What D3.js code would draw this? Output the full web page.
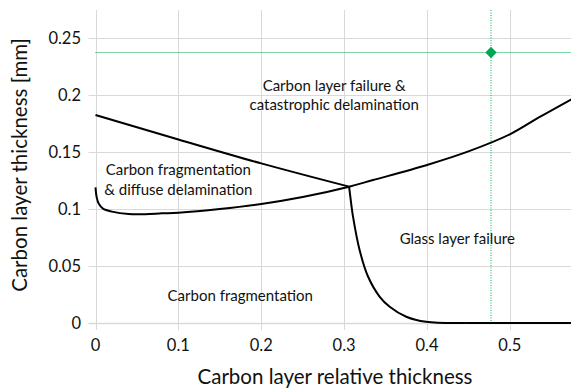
<!DOCTYPE html>
<html>
<head>
<meta charset="utf-8">
<script src="https://cdn.jsdelivr.net/npm/d3@7"></script>
<style>
  body { margin: 0; background: #fff; }
  text { font-family: Lato, "Liberation Sans", sans-serif; fill: #111; }
</style>
</head>
<body>
<script>
// upper boundary: failure & delamination vs fragmentation
var upperX = [0, 0.1, 0.2, 0.306];
var upperY = [0.1825, 0.161, 0.140, 0.1196];

// lower boundary
var lowerX = [0, 0.0015, 0.004, 0.009, 0.02, 0.04, 0.06, 0.08, 0.1, 0.15, 0.2, 0.25, 0.306, 0.335, 0.4, 0.45, 0.5, 0.5355, 0.575];
var lowerY = [0.119, 0.110, 0.1045, 0.1004, 0.0977, 0.0956, 0.0955, 0.0962, 0.0968, 0.100, 0.1044, 0.1105, 0.1196, 0.1254, 0.1386, 0.1505, 0.1655, 0.1805, 0.1965];

// glass layer failure boundary
var dropX = [0.306, 0.3085, 0.3106, 0.3187, 0.3287, 0.343, 0.355, 0.375, 0.399, 0.447];
var dropY = [0.1196, 0.105, 0.094, 0.064, 0.041, 0.023, 0.0143, 0.0055, 0.001, 0];
var tailX = [0.447, 0.575];
var tailY = [0, 0];

var markerX = 0.477, markerY = 0.238;

var xTicks = [0, 0.1, 0.2, 0.3, 0.4, 0.5];
var yTicks = [0, 0.05, 0.1, 0.15, 0.2, 0.25];

var labels = [
    {text: ["Carbon layer failure &", "catastrophic delamination"], x: 0.288, y: 0.2037, anchor: "middle"},
    {text: ["Carbon fragmentation", "& diffuse delamination"], x: 0.1, y: 0.1295, anchor: "middle"},
    {text: ["Glass layer failure"], x: 0.367, y: 0.069, anchor: "start"},
    {text: ["Carbon fragmentation"], x: 0.087, y: 0.0195, anchor: "start"}
];

var width = 571, height = 392;
var svg = d3.select("body").append("svg")
    .attr("width", width)
    .attr("height", height);

var x = d3.scaleLinear().domain([0, 0.575]).range([95.5, 572]);
var y = d3.scaleLinear().domain([0, 0.25]).range([323, 38]);
var yTop = 10;
var px = v => Math.round(v) + 0.5;

// gridlines
svg.append("g").selectAll("line").data(xTicks).join("line")
    .attr("x1", d => px(x(d))).attr("x2", d => px(x(d)))
    .attr("y1", yTop).attr("y2", y(0) + 7)
    .attr("stroke", "#d9d9d9").attr("stroke-width", 1);

svg.append("g").selectAll("line").data(yTicks).join("line")
    .attr("x1", x(0) - 7).attr("x2", width)
    .attr("y1", d => px(y(d))).attr("y2", d => px(y(d)))
    .attr("stroke", "#d9d9d9").attr("stroke-width", d => d === 0 ? 1.5 : 1);

// tick labels
svg.append("g").selectAll("text").data(yTicks).join("text")
    .attr("x", 81).attr("y", d => y(d) + 5.5)
    .attr("text-anchor", "end")
    .style("font-size", "16.5px")
    .text(d => d);

svg.append("g").selectAll("text").data(xTicks).join("text")
    .attr("x", d => x(d)).attr("y", 351)
    .attr("text-anchor", "middle")
    .style("font-size", "16.5px")
    .text(d => d);

// axis titles
svg.append("text")
    .attr("x", 335).attr("y", 384)
    .attr("text-anchor", "middle")
    .style("font-size", "20.5px")
    .text("Carbon layer relative thickness");

svg.append("text")
    .attr("transform", "translate(27,165) rotate(-90)")
    .attr("text-anchor", "middle")
    .style("font-size", "20.5px")
    .text("Carbon layer thickness [mm]");

// green guide lines + marker (dotted)
var green = "#00b050";
var gx = Math.round(x(markerX)), gy = px(y(markerY));
svg.append("path")
    .attr("d", "M" + x(0) + "," + gy + "H" + width)
    .attr("stroke", green).attr("stroke-width", 1).attr("fill", "none")
    .attr("stroke-dasharray", "1 1");
svg.append("path")
    .attr("d", "M" + gx + "," + yTop + "V" + y(0))
    .attr("stroke", green).attr("stroke-width", 1).attr("fill", "none")
    .attr("stroke-dasharray", "1 1.5");
svg.append("rect")
    .attr("x", -4).attr("y", -4).attr("width", 8).attr("height", 8)
    .attr("transform", "translate(" + gx + "," + gy + ") rotate(45)")
    .attr("fill", "#00a651");

// boundary curves
var lineMono = d3.line()
    .x(d => x(d[0])).y(d => y(d[1]))
    .curve(d3.curveMonotoneX);
var lineCR = d3.line()
    .x(d => x(d[0])).y(d => y(d[1]))
    .curve(d3.curveCatmullRom.alpha(0.5));

[[upperX, upperY, lineMono], [lowerX, lowerY, lineCR], [dropX, dropY, lineCR], [tailX, tailY, lineMono]].forEach(function(s) {
    svg.append("path")
        .datum(d3.zip(s[0], s[1]))
        .attr("d", s[2])
        .attr("fill", "none")
        .attr("stroke", "#000")
        .attr("stroke-width", 2)
        .attr("stroke-linejoin", "round");
});

// region labels
labels.forEach(function(l) {
    var t = svg.append("text")
        .attr("text-anchor", l.anchor)
        .style("font-size", "15px");
    l.text.forEach(function(s, i) {
        t.append("tspan")
            .attr("x", x(l.x))
            .attr("y", y(l.y) + i * 19.5)
            .text(s);
    });
});
</script>
</body>
</html>
